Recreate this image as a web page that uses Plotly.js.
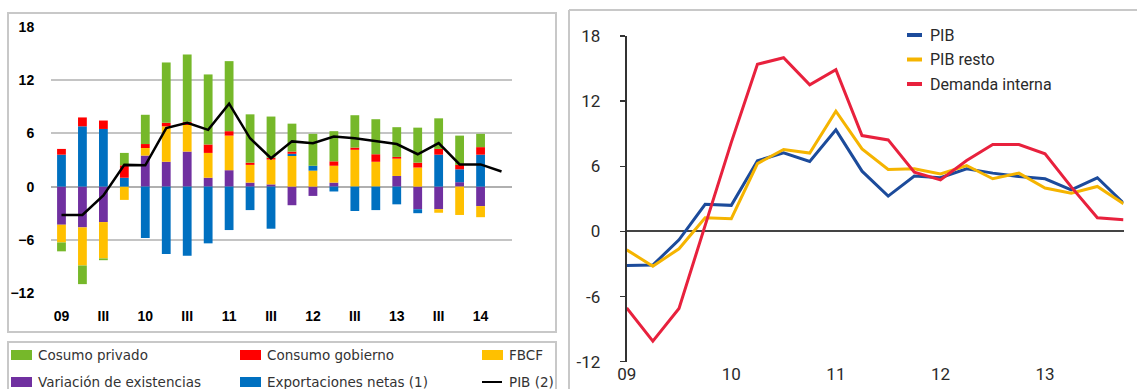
<!DOCTYPE html>
<html>
<head>
<meta charset="utf-8">
<script src="https://cdn.plot.ly/plotly-3.0.1.min.js"></script>
<style>html,body{margin:0;padding:0;background:#fff;}#chart{width:1137px;height:389px;}</style>
</head>
<body>
<div id="chart"></div>
<script>
// ---------- Left panel: contributions to GDP growth (quarters 09Q1 .. 14Q2) ----------
const quartersLeft = ["09 I","09 II","09 III","09 IV","10 I","10 II","10 III","10 IV","11 I","11 II","11 III","11 IV","12 I","12 II","12 III","12 IV","13 I","13 II","13 III","13 IV","14 I","14 II"];
const leftTickLabels = ["09","III","10","III","11","III","12","III","13","III","14"];
const variacionExistencias = [-4.3,-4.6,-4.0,0,3.5,2.8,3.95,1.0,1.85,0.45,0.25,-2.1,-1.05,0.45,0,0,1.2,-2.55,-2.55,0.5,-2.2];
const fbcf = [-2.0,-4.3,-4.1,-1.5,0.85,4.0,3.0,2.8,3.9,2.0,2.8,3.45,1.8,1.9,4.15,2.8,1.95,2.15,-0.4,-3.2,-1.25];
const exportacionesNetas = [3.6,6.8,6.5,1.0,-5.8,-7.6,-7.8,-6.4,-4.9,-2.65,-4.75,0.25,0.55,-0.55,-2.75,-2.65,-2.0,-0.45,3.6,1.45,3.6];
const consumoGobierno = [0.65,1.0,0.95,1.4,0.45,0.4,0.35,0.95,0.5,0.25,0.2,0.25,0,0.5,0.25,0.85,0.2,0.55,0.65,0.5,0.85];
const consumoPrivado = [-1.0,-2.1,-0.2,1.4,3.3,6.8,7.6,7.9,7.9,5.45,4.65,3.15,3.6,3.4,3.65,3.95,3.35,3.95,3.45,3.3,1.5];
const pibLeft = [-3.2,-3.2,-1.0,2.45,2.4,6.6,7.2,6.4,9.35,5.45,3.2,5.1,4.9,5.65,5.45,5.1,4.8,3.65,4.9,2.5,2.5,1.7];
const leftYTicks = [-12,-6,0,6,12,18];

// ---------- Right panel: GDP vs rest & domestic demand (quarters 09Q1 .. 13Q4) ----------
const quartersRight = ["09 I","09 II","09 III","09 IV","10 I","10 II","10 III","10 IV","11 I","11 II","11 III","11 IV","12 I","12 II","12 III","12 IV","13 I","13 II","13 III","13 IV"];
const rightTickLabels = ["09","10","11","12","13"];
const pib = [-3.13,-3.1,-0.77,2.5,2.4,6.5,7.25,6.45,9.35,5.55,3.25,5.1,4.94,5.77,5.37,5.06,4.85,3.83,4.94,2.6];
const pibResto = [-1.7,-3.2,-1.6,1.26,1.17,6.25,7.55,7.22,11.07,7.6,5.7,5.77,5.3,6.07,4.85,5.37,4.0,3.53,4.14,2.55];
const demandaInterna = [-7.05,-10.1,-7.1,0.6,8.2,15.4,16.0,13.5,14.9,8.83,8.43,5.46,4.75,6.53,8.0,8.0,7.15,4.1,1.26,1.07];
const rightYTicks = [-12,-6,0,6,12,18];
const rightYTickText = ["-12","-6","0","6","12","18"];

// ---------- Styling ----------
const C = {green:"#76b82a", red:"#ff0000", yellow:"#ffc000", purple:"#7030a0", blue:"#0070c0", black:"#000000",
           pib:"#1c4b9b", resto:"#f5b400", demanda:"#e8213d"};
const W = 1137, H = 389;
const fx = px => px / W;
const fy = py => (H - py) / H;

const xL = quartersLeft.map((_, i) => i);
const nBars = consumoPrivado.length;
const xB = xL.slice(0, nBars);
const xR = quartersRight.map((_, i) => i);

function barTrace(name, y, color) {
  return {type:"bar", name, x:xB, y, marker:{color, line:{width:0}}, width:0.42, xaxis:"x", yaxis:"y", showlegend:false, hoverinfo:"skip"};
}
const traces = [
  barTrace("Variación de existencias", variacionExistencias, C.purple),
  barTrace("FBCF", fbcf, C.yellow),
  barTrace("Exportaciones netas (1)", exportacionesNetas, C.blue),
  barTrace("Consumo gobierno", consumoGobierno, C.red),
  barTrace("Cosumo privado", consumoPrivado, C.green),
  {type:"scatter", mode:"lines", name:"PIB (2)", x:xL, y:pibLeft, line:{color:C.black, width:2.5}, xaxis:"x", yaxis:"y", showlegend:false, hoverinfo:"skip"},
  {type:"scatter", mode:"lines", name:"PIB", x:xR, y:pib, line:{color:C.pib, width:3}, xaxis:"x3", yaxis:"y3", showlegend:false, hoverinfo:"skip"},
  {type:"scatter", mode:"lines", name:"PIB resto", x:xR, y:pibResto, line:{color:C.resto, width:3}, xaxis:"x3", yaxis:"y3", showlegend:false, hoverinfo:"skip"},
  {type:"scatter", mode:"lines", name:"Demanda interna", x:xR, y:demandaInterna, line:{color:C.demanda, width:3}, xaxis:"x3", yaxis:"y3", showlegend:false, hoverinfo:"skip"}
];

// Domains
const Lx = [fx(51), fx(512)], Ly = [fy(293), fy(27)];
const Rx = [fx(626.7), fx(1123.5)], Ry = [fy(361.7), fy(36)];
const Lrange = [-12, 18], Rrange = [-12, 18];
const zeroPos = (dom, rng) => dom[0] + (0 - rng[0]) / (rng[1] - rng[0]) * (dom[1] - dom[0]);
const leftXRange = [-0.5, quartersLeft.length - 0.5];
const rightXRange = [0, quartersRight.length - 1];
const halfYearTicks = []; for (let v = leftXRange[0]; v <= leftXRange[1] + 1e-9; v += 2) halfYearTicks.push(v);
const leftLabelVals = leftTickLabels.map((_, i) => i * 2);
const rightLabelVals = rightTickLabels.map((_, i) => i * 4);

const leftFont = {family:"Liberation Sans, Arial, sans-serif", size:14, color:"#000"};
const narrow = "Liberation Sans Narrow, Roboto, sans-serif";
const rightFont = {family:narrow, size:17, color:"#2a2a2a"};

const layout = {
  width:W, height:H, margin:{l:0,r:0,t:0,b:0}, paper_bgcolor:"#fff", plot_bgcolor:"rgba(0,0,0,0)",
  barmode:"relative", showlegend:false,
  xaxis:{domain:Lx, range:leftXRange, anchor:"y", showgrid:false, zeroline:false, showline:false,
         tickvals:leftLabelVals, ticktext:leftTickLabels, ticks:"outside", ticklen:10, tickcolor:"rgba(0,0,0,0)",
         tickfont:{...leftFont, weight:"bold"}},
  xaxis2:{overlaying:"x", anchor:"free", position:zeroPos(Ly, Lrange), range:leftXRange, showgrid:false, zeroline:false, showline:false,
          tickvals:halfYearTicks, ticks:"outside", ticklen:5, tickwidth:1.5, tickcolor:"#b5b5b5", showticklabels:false},
  yaxis:{domain:Ly, range:Lrange, anchor:"x", tickvals:leftYTicks, showgrid:true, gridcolor:"#c4c4c4", gridwidth:2,
         zeroline:true, zerolinecolor:"#b0b0b0", zerolinewidth:2, showline:false,
         ticks:"outside", ticklen:13, tickcolor:"rgba(0,0,0,0)", tickfont:{...leftFont, weight:"bold"}},
  yaxis2:{overlaying:"y", side:"right", anchor:"x", range:Lrange, tickvals:leftYTicks, showgrid:false, zeroline:false, showline:false,
          ticks:"outside", ticklen:17, tickcolor:"rgba(0,0,0,0)", tickfont:{...leftFont, weight:"bold"}},
  xaxis3:{domain:Rx, range:rightXRange, anchor:"y3", showgrid:false, zeroline:false, showline:false,
          tickvals:rightLabelVals, ticktext:rightTickLabels, ticks:"", tickfont:rightFont},
  xaxis4:{overlaying:"x3", anchor:"free", position:zeroPos(Ry, Rrange), range:rightXRange, showgrid:false, zeroline:false, showline:false,
          tickvals:rightLabelVals, ticks:"outside", ticklen:5, tickwidth:1.5, tickcolor:"#333", showticklabels:false},
  yaxis3:{domain:Ry, range:Rrange, anchor:"x3", tickvals:rightYTicks, ticktext:rightYTickText, showgrid:false,
          zeroline:true, zerolinecolor:"#444", zerolinewidth:2, showline:true, linecolor:"#333", linewidth:2,
          ticks:"outside", ticklen:5, tickwidth:1.5, tickcolor:"#333", ticklabelstandoff:16, tickfont:rightFont},
  shapes:[], annotations:[]
};

// Panel borders
const border = {color:"#c8c8c8", width:2};
layout.shapes.push({type:"rect", xref:"paper", yref:"paper", x0:fx(8), x1:fx(556), y0:fy(332), y1:fy(13), line:border});
layout.shapes.push({type:"rect", xref:"paper", yref:"paper", x0:fx(8), x1:fx(556), y0:fy(400), y1:fy(342), line:border});
layout.shapes.push({type:"line", xref:"paper", yref:"paper", x0:fx(569), x1:fx(1140), y0:fy(10), y1:fy(10), line:border});
layout.shapes.push({type:"line", xref:"paper", yref:"paper", x0:fx(569), x1:fx(569), y0:fy(10), y1:fy(400), line:border});

// Left legend (3 columns x 2 rows)
const leftLegend = [
  {name:"Cosumo privado", color:C.green, kind:"bar"},
  {name:"Consumo gobierno", color:C.red, kind:"bar"},
  {name:"FBCF", color:C.yellow, kind:"bar"},
  {name:"Variación de existencias", color:C.purple, kind:"bar"},
  {name:"Exportaciones netas (1)", color:C.blue, kind:"bar"},
  {name:"PIB (2)", color:C.black, kind:"line"}
];
const colX = [11, 240, 482], rowY = [355, 382];
leftLegend.forEach((it, i) => {
  const cx = colX[i % 3], cy = rowY[Math.floor(i / 3)];
  if (it.kind === "bar") {
    layout.shapes.push({type:"rect", xref:"paper", yref:"paper", x0:fx(cx), x1:fx(cx + 21), y0:fy(cy + 5), y1:fy(cy - 5), fillcolor:it.color, line:{width:0}});
  } else {
    layout.shapes.push({type:"line", xref:"paper", yref:"paper", x0:fx(cx), x1:fx(cx + 20), y0:fy(cy), y1:fy(cy), line:{color:it.color, width:2}});
  }
  layout.annotations.push({xref:"paper", yref:"paper", x:fx(cx + 25), y:fy(cy), xanchor:"left", yanchor:"middle", showarrow:false,
    text:it.name, font:{family:"DejaVu Sans, Verdana, sans-serif", size:13.5, color:"#333"}});
});

// Right legend
const rightLegend = [
  {name:"PIB", color:C.pib},
  {name:"PIB resto", color:C.resto},
  {name:"Demanda interna", color:C.demanda}
];
rightLegend.forEach((it, i) => {
  const cy = 35 + i * 24.5;
  layout.shapes.push({type:"line", xref:"paper", yref:"paper", x0:fx(907), x1:fx(922), y0:fy(cy), y1:fy(cy), line:{color:it.color, width:4}});
  layout.annotations.push({xref:"paper", yref:"paper", x:fx(928), y:fy(cy), xanchor:"left", yanchor:"middle", showarrow:false,
    text:it.name, font:{family:narrow, size:16, color:"#2a2a2a"}});
});

Plotly.newPlot("chart", traces, layout, {staticPlot:true, displayModeBar:false});
</script>
</body>
</html>
